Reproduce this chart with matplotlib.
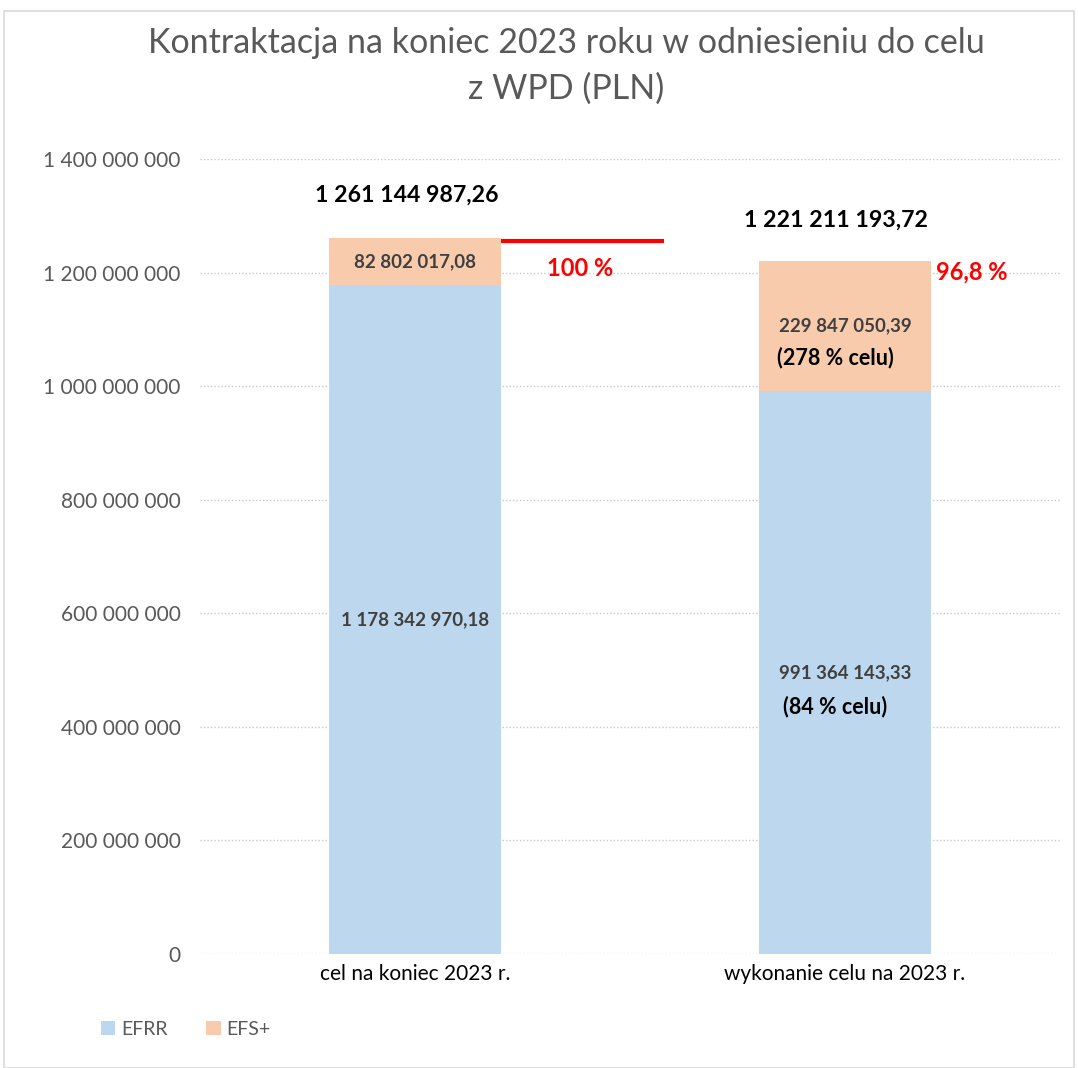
import matplotlib
matplotlib.use("Agg")
import matplotlib.pyplot as plt
from matplotlib.patches import Rectangle
from matplotlib.ticker import FuncFormatter

plt.rcParams['font.family'] = ['Lato', 'DejaVu Sans']

categories = ["cel na koniec 2023 r.", "wykonanie celu na 2023 r."]
efrr = [1178342970.18, 991364143.33]
efs = [82802017.08, 229847050.39]
efrr_labels = ["1 178 342 970,18", "991 364 143,33"]
efs_labels = ["82 802 017,08", "229 847 050,39"]
total_labels = ["1 261 144 987,26", "1 221 211 193,72"]
efrr_pct = [None, "(84 % celu)"]
efs_pct = [None, "(278 % celu)"]
pct_labels = ["100 %", "96,8 %"]
series_names = ["EFRR", "EFS+"]
yticks = [0, 200e6, 400e6, 600e6, 800e6, 1000e6, 1200e6, 1400e6]

c_efrr = "#BDD7EE"
c_efs = "#F8CBAD"

fig = plt.figure(figsize=(10.78, 10.68), dpi=100)
fig.patches.append(Rectangle((0.004, 0.0), 0.992, 0.99, transform=fig.transFigure,
                             fill=False, edgecolor="#D9D9D9", linewidth=1.2))
ax = fig.add_axes([0.1855, 0.1067, 0.7978, 0.7444])

x = list(range(len(categories)))
w = 0.4
b1 = ax.bar(x, efrr, width=w, color=c_efrr, label=series_names[0], zorder=2)
b2 = ax.bar(x, efs, width=w, bottom=efrr, color=c_efs, label=series_names[1], zorder=2)

ax.set_xlim(-0.5, 1.5)
ax.set_ylim(0, 1.4e9)
ax.set_yticks(yticks)
ax.yaxis.set_major_formatter(FuncFormatter(lambda v, p: f"{int(v):,}".replace(",", " ")))
ax.set_xticks(x)
ax.set_xticklabels(categories)
ax.tick_params(axis='both', length=0, labelsize=15, labelcolor="#595959")
ax.tick_params(axis='x', labelcolor="#000000", pad=7)
ax.tick_params(axis='y', pad=14)
for s in ax.spines.values():
    s.set_visible(False)
ax.grid(axis='y', linestyle=(0, (1, 1.5)), color="#C8C8C8", linewidth=1, zorder=0)
ax.set_axisbelow(True)

# segment labels
for i in x:
    if efrr_pct[i] is None:
        ax.text(i, efrr[i] / 2, efrr_labels[i], ha='center', va='center',
                fontsize=13.5, fontweight='bold', color="#404040")
        ax.text(i, efrr[i] + efs[i] / 2, efs_labels[i], ha='center', va='center',
                fontsize=13.5, fontweight='bold', color="#404040")
    else:
        ax.text(i, efrr[i] / 2, efrr_labels[i], ha='center', va='center',
                fontsize=13.5, fontweight='bold', color="#404040")
        ax.text(i - 0.022, efrr[i] / 2 - 59e6, efrr_pct[i], ha='center', va='center',
                fontsize=15.5, fontweight='bold', color="#000000")
        ax.text(i, efrr[i] + efs[i] / 2, efs_labels[i], ha='center', va='center',
                fontsize=13.5, fontweight='bold', color="#404040")
        ax.text(i - 0.022, efrr[i] + efs[i] / 2 - 55e6, efs_pct[i], ha='center', va='center',
                fontsize=15.5, fontweight='bold', color="#000000")

# totals
ax.text(0 - 0.02, 1337e6, total_labels[0], ha='center', va='center',
        fontsize=16.7, fontweight='bold', color="#000000")
ax.text(1 - 0.02, 1292e6, total_labels[1], ha='center', va='center',
        fontsize=16.7, fontweight='bold', color="#000000")

# target line
tot0 = efrr[0] + efs[0]
ax.plot([0.2, 0.58], [tot0 - 6e6, tot0 - 6e6], color="#FF0000", linewidth=3, zorder=3,
        solid_capstyle='butt')
ax.text(0.385, 1208e6, pct_labels[0], ha='center', va='center',
        fontsize=17, fontweight='bold', color="#FF0000")
ax.text(1.212, 1201e6, pct_labels[1], ha='left', va='center',
        fontsize=17, fontweight='bold', color="#FF0000")

fig.text(0.525, 0.960, "Kontraktacja na koniec 2023 roku w odniesieniu do celu",
         ha='center', va='center', fontsize=24.5, color="#595959")
fig.text(0.525, 0.917, "z WPD (PLN)", ha='center', va='center', fontsize=24.5, color="#595959")

leg = fig.legend(handles=[b1, b2], labels=series_names, loc='center left',
                 bbox_to_anchor=(0.077, 0.036), ncol=2, frameon=False,
                 handlelength=0.75, handleheight=0.75, handletextpad=0.3,
                 columnspacing=2.0, fontsize=14)
for t in leg.get_texts():
    t.set_color("#595959")

fig.savefig("out.png", dpi=100)
